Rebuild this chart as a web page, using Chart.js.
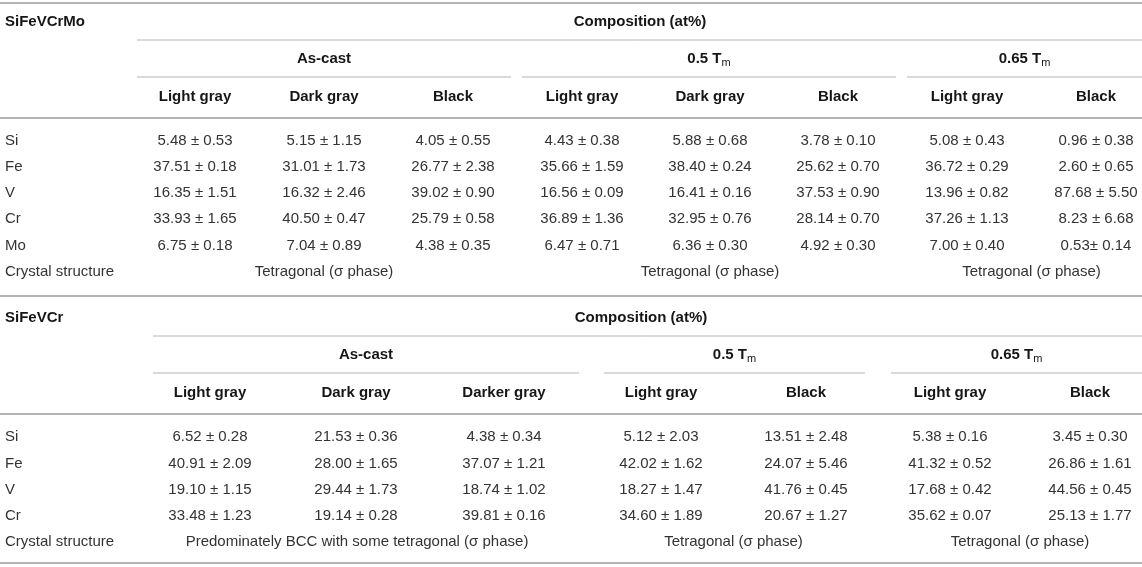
<!DOCTYPE html>
<html>
<head>
<meta charset="utf-8">
<script src="https://cdn.jsdelivr.net/npm/chart.js@4.4.1/dist/chart.umd.min.js"></script>
<style>
  html, body { margin: 0; background: #fff; }
  canvas { display: block; }
</style>
</head>
<body>
<canvas id="tabela" width="1142" height="567"></canvas>
<script>
// ===== DATA: table 1 (SiFeVCrMo) =====
const alloyA = "SiFeVCrMo";
const elementsA = ["Si", "Fe", "V", "Cr", "Mo"];
const groupNamesA = ["As-cast", "0.5 T", "0.65 T"];
const groupSubsA = ["", "m", "m"];
const phasesA = ["Light gray", "Dark gray", "Black", "Light gray", "Dark gray", "Black", "Light gray", "Black"];
const siA = ["5.48 ± 0.53", "5.15 ± 1.15", "4.05 ± 0.55", "4.43 ± 0.38", "5.88 ± 0.68", "3.78 ± 0.10", "5.08 ± 0.43", "0.96 ± 0.38"];
const feA = ["37.51 ± 0.18", "31.01 ± 1.73", "26.77 ± 2.38", "35.66 ± 1.59", "38.40 ± 0.24", "25.62 ± 0.70", "36.72 ± 0.29", "2.60 ± 0.65"];
const vA  = ["16.35 ± 1.51", "16.32 ± 2.46", "39.02 ± 0.90", "16.56 ± 0.09", "16.41 ± 0.16", "37.53 ± 0.90", "13.96 ± 0.82", "87.68 ± 5.50"];
const crA = ["33.93 ± 1.65", "40.50 ± 0.47", "25.79 ± 0.58", "36.89 ± 1.36", "32.95 ± 0.76", "28.14 ± 0.70", "37.26 ± 1.13", "8.23 ± 6.68"];
const moA = ["6.75 ± 0.18", "7.04 ± 0.89", "4.38 ± 0.35", "6.47 ± 0.71", "6.36 ± 0.30", "4.92 ± 0.30", "7.00 ± 0.40", "0.53± 0.14"];
const structA = ["Tetragonal (σ phase)", "Tetragonal (σ phase)", "Tetragonal (σ phase)"];

// ===== DATA: table 2 (SiFeVCr) =====
const alloyB = "SiFeVCr";
const elementsB = ["Si", "Fe", "V", "Cr"];
const groupNamesB = ["As-cast", "0.5 T", "0.65 T"];
const groupSubsB = ["", "m", "m"];
const phasesB = ["Light gray", "Dark gray", "Darker gray", "Light gray", "Black", "Light gray", "Black"];
const siB = ["6.52 ± 0.28", "21.53 ± 0.36", "4.38 ± 0.34", "5.12 ± 2.03", "13.51 ± 2.48", "5.38 ± 0.16", "3.45 ± 0.30"];
const feB = ["40.91 ± 2.09", "28.00 ± 1.65", "37.07 ± 1.21", "42.02 ± 1.62", "24.07 ± 5.46", "41.32 ± 0.52", "26.86 ± 1.61"];
const vB  = ["19.10 ± 1.15", "29.44 ± 1.73", "18.74 ± 1.02", "18.27 ± 1.47", "41.76 ± 0.45", "17.68 ± 0.42", "44.56 ± 0.45"];
const crB = ["33.48 ± 1.23", "19.14 ± 0.28", "39.81 ± 0.16", "34.60 ± 1.89", "20.67 ± 1.27", "35.62 ± 0.07", "25.13 ± 1.77"];
const structB = ["Predominately BCC with some tetragonal (σ phase)", "Tetragonal (σ phase)", "Tetragonal (σ phase)"];

const compTitle = "Composition (at%)";
const structLabel = "Crystal structure";

// ===== LAYOUT (scale units = pixels) =====
const W = 1142, H = 567;
const layoutA = {
  top: 3, titleY: 22, compX: 640, compLine: [137, 40],
  groupY: 59, groupLineY: 77, spans: [[137, 511], [522, 896], [907, 1142]], groupCols: [3, 3, 2],
  headY: 97, colX: [195, 324, 453, 582, 710, 838, 967, 1096],
  headRule: 118, rowY: [140.5, 166.7, 192.7, 219, 245.7, 271.7]
};
const layoutB = {
  top: 296, titleY: 318, compX: 641, compLine: [153, 336],
  groupY: 355, groupLineY: 373, spans: [[153, 579], [604, 865], [891, 1142]], groupCols: [3, 2, 2],
  headY: 393, colX: [210, 356, 504, 661, 806, 950, 1090],
  headRule: 414, rowY: [437, 463.5, 489.7, 516, 542], bottom: 563
};

const ruleColor = "#b4b4b4";
const boldStyle = { weight: "bold", size: 15, color: "#161616" };
const bodyStyle = { weight: "normal", size: 15, color: "#333333" };

function rule(x1, x2, y, width) {
  return {
    data: [{ x: x1, y: y }, { x: x2, y: y }],
    showLine: true, borderColor: ruleColor, borderWidth: width,
    pointRadius: 0, clip: false
  };
}

function textSet(points, style) {
  return { data: points, pointRadius: 0, showLine: false, cellStyle: style, clip: false };
}

function buildTable(L, alloy, groupNames, groupSubs, phases, elements, rows, structs, withTop) {
  const sets = [];
  if (withTop) sets.push(rule(0, W, L.top, 2));
  sets.push(rule(L.compLine[0], W, L.compLine[1], 1));
  L.spans.forEach(s => sets.push(rule(s[0], s[1], L.groupLineY, 1)));
  sets.push(rule(0, W, L.headRule, 2));
  if (L.bottom) sets.push(rule(0, W, L.bottom, 2));

  const bold = [];
  bold.push({ x: 5, y: L.titleY, t: alloy, align: "left" });
  bold.push({ x: L.compX, y: L.titleY, t: compTitle });
  groupNames.forEach((g, i) => {
    const s = L.spans[i];
    bold.push({ x: (s[0] + s[1]) / 2, y: L.groupY, t: g, sub: groupSubs[i] });
  });
  phases.forEach((p, i) => bold.push({ x: L.colX[i], y: L.headY, t: p }));
  sets.push(textSet(bold, boldStyle));

  const body = [];
  elements.forEach((el, r) => {
    body.push({ x: 5, y: L.rowY[r], t: el, align: "left" });
    rows[r].forEach((v, c) => body.push({ x: L.colX[c], y: L.rowY[r], t: v }));
  });
  const sy = L.rowY[elements.length];
  body.push({ x: 5, y: sy, t: structLabel, align: "left" });
  let c0 = 0;
  structs.forEach((s, g) => {
    const n = L.groupCols[g];
    body.push({ x: (L.colX[c0] + L.colX[c0 + n - 1]) / 2, y: sy, t: s });
    c0 += n;
  });
  sets.push(textSet(body, bodyStyle));
  return sets;
}

// draws the cell texts at the positions the scales give each point
const cellText = {
  id: "cellText",
  afterDatasetsDraw(chart) {
    const ctx = chart.ctx;
    const fam = '"Liberation Sans", Arial, Helvetica, sans-serif';
    chart.data.datasets.forEach((ds, di) => {
      if (!ds.cellStyle) return;
      const st = ds.cellStyle;
      const meta = chart.getDatasetMeta(di);
      meta.data.forEach((pt, i) => {
        const raw = ds.data[i];
        ctx.save();
        ctx.fillStyle = st.color;
        ctx.textBaseline = "middle";
        ctx.font = `${st.weight} ${st.size}px ${fam}`;
        const w1 = ctx.measureText(raw.t).width;
        let w2 = 0;
        const subFont = `normal ${Math.round(st.size * 0.75)}px ${fam}`;
        if (raw.sub) {
          ctx.font = subFont;
          w2 = ctx.measureText(raw.sub).width;
          ctx.font = `${st.weight} ${st.size}px ${fam}`;
        }
        let x = pt.x;
        if (raw.align !== "left") x = pt.x - (w1 + w2) / 2;
        ctx.textAlign = "left";
        ctx.fillText(raw.t, x, pt.y);
        if (raw.sub) {
          ctx.font = subFont;
          ctx.fillText(raw.sub, x + w1, pt.y + 4);
        }
        ctx.restore();
      });
    });
  }
};

const datasets = [].concat(
  buildTable(layoutA, alloyA, groupNamesA, groupSubsA, phasesA, elementsA, [siA, feA, vA, crA, moA], structA, true),
  buildTable(layoutB, alloyB, groupNamesB, groupSubsB, phasesB, elementsB, [siB, feB, vB, crB], structB, true)
);

new Chart(document.getElementById("tabela").getContext("2d"), {
  type: "scatter",
  data: { datasets: datasets },
  options: {
    responsive: false,
    animation: false,
    devicePixelRatio: 1,
    layout: { padding: 0 },
    plugins: { legend: { display: false }, tooltip: { enabled: false } },
    scales: {
      x: { type: "linear", min: 0, max: W, display: false },
      y: { type: "linear", min: 0, max: H, reverse: true, display: false }
    }
  },
  plugins: [cellText]
});
</script>
</body>
</html>
